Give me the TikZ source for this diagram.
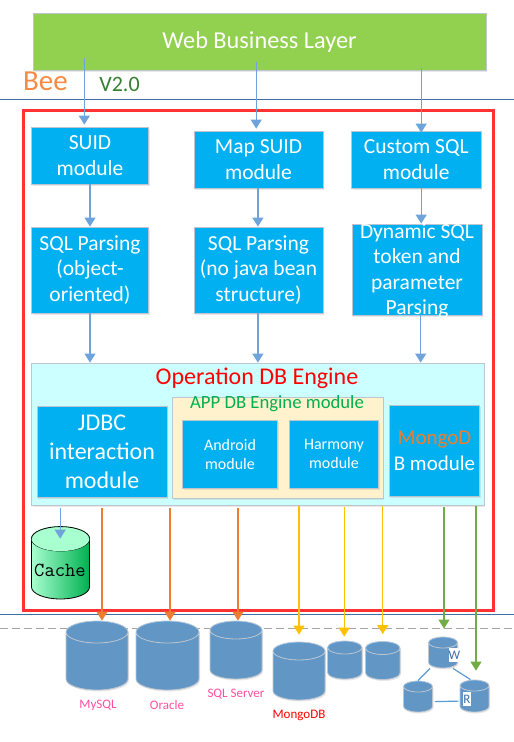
\documentclass[tikz,border=0pt]{standalone}
\usepackage{fontspec}
\setmainfont{Carlito}
\usetikzlibrary{arrows.meta,shapes.geometric,shadows}
\definecolor{webgreen}{HTML}{92D050}
\definecolor{modblue}{HTML}{00B0F0}
\definecolor{edgegray}{HTML}{BDC6D0}
\definecolor{engcyan}{HTML}{CCFFFF}
\definecolor{appcream}{HTML}{FFF2CC}
\definecolor{dbblue}{HTML}{5B9BD5}
\definecolor{rulered}{HTML}{FF3333}
\definecolor{seqblue}{HTML}{3F6FA8}
\definecolor{flowblue}{HTML}{6FA3DC}
\definecolor{flowor}{HTML}{ED7D31}
\definecolor{flowye}{HTML}{FFC000}
\definecolor{flowgr}{HTML}{70AD47}
\definecolor{beeor}{HTML}{F58A42}
\definecolor{vergreen}{HTML}{33802E}
\definecolor{labpink}{HTML}{FF4FA0}
\definecolor{cachelight}{HTML}{A8FFD0}
\definecolor{cachemid}{HTML}{8CF0B8}
\definecolor{cachedark}{HTML}{00B050}
\tikzset{
  softshadow/.style={drop shadow={opacity=.18,shadow xshift=1pt,shadow yshift=-1.5pt}},
  box/.style={draw=edgegray,line width=.8pt,inner sep=0pt,align=center,softshadow},
  module/.style={box,fill=modblue,text=white,font=\fontsize{21.5}{25.5}\selectfont},
  smallmod/.style={module,font=\fontsize{16}{19}\selectfont},
  db/.style={cylinder,anchor=shape center,shape border rotate=90,aspect=1,draw=edgegray,line width=.8pt,inner sep=#1,
    cylinder uses custom fill,cylinder body fill=dbblue,cylinder end fill=dbblue,softshadow},
  dblabel/.style={text=labpink,font=\fontsize{13}{15}\selectfont},
  flow/.style={line width=1.2pt,-{Triangle[width=11pt,length=9pt]}},
  blueflow/.style={flow,color=flowblue},
  orflow/.style={flow,color=flowor},
  yeflow/.style={flow,color=flowye},
  grflow/.style={flow,color=flowgr},
}
\begin{document}
\begin{tikzpicture}[x=1pt,y=-1pt]
  \useasboundingbox (0,0) rectangle (514,742);
  % rules
  \draw[seqblue,line width=.8pt] (0,99) -- (514,99);
  \draw[seqblue,line width=.8pt] (0,614.5) -- (514,614.5);
  \draw[gray!70,line width=.8pt,dash pattern=on 8pt off 4pt] (0,628.5) -- (514,628.5);
  \node[box,fill=webgreen,text=white,font=\fontsize{24.3}{28}\selectfont,minimum width=453pt,minimum height=57pt] (web) at (259.5,42) {Web Business Layer};
  \node[text=beeor,font=\fontsize{29}{32}\selectfont] (bee) at (45.5,81) {Bee};
  \node[text=vergreen,font=\fontsize{22}{26}\selectfont] (ver) at (119.5,84) {V2.0};
  \node[draw=rulered,line width=3pt,minimum width=470pt,minimum height=500pt] (core) at (258,360) {};
  % top row
  \node[module,minimum width=117pt,minimum height=57pt] (suid) at (90,155.5) {SUID\\module};
  \node[module,minimum width=129pt,minimum height=57pt] (map) at (258.5,159.5) {Map SUID\\module};
  \node[module,minimum width=129.5pt,minimum height=57pt] (custom) at (416.25,159.5) {Custom SQL\\module};
  % parsing row
  \node[module,minimum width=117pt,minimum height=86pt] (parse) at (90,270) {SQL Parsing\\(object-\\oriented)};
  \node[module,minimum width=129pt,minimum height=86pt] (parsemap) at (258.5,270) {SQL Parsing\\(no java bean\\structure)};
  \node[module,minimum width=130pt,minimum height=91pt] (parsedyn) at (417,269.5) {};
  \node[text=white,align=center,inner sep=0pt,font=\fontsize{21.5}{25.6}\selectfont] (parsedyntxt) at (417,271) {Dynamic SQL\\token and\\parameter\\Parsing};
  % engine
  \node[box,fill=engcyan,minimum width=452.5pt,minimum height=142pt] (engine) at (257.75,434) {};
  \node[text=red,font=\fontsize{24}{28}\selectfont] (enginetxt) at (257,378) {Operation DB Engine};
  \node[module,font=\fontsize{24}{29}\selectfont,minimum width=130pt,minimum height=91pt] (jdbc) at (102,451.5) {JDBC\\interaction\\module};
  \node[box,fill=appcream,minimum width=210.5pt,minimum height=101pt] (app) at (277.75,447.5) {};
  \node[text=cachedark,font=\fontsize{18.7}{22}\selectfont] (apptxt) at (277,404) {APP DB Engine module};
  \node[smallmod,minimum width=95pt,minimum height=67.5pt] (android) at (230,454.25) {Android\\module};
  \node[smallmod,minimum width=89pt,minimum height=67.5pt] (harmony) at (334,454.25) {Harmony\\module};
  \node[module,font=\fontsize{21}{26}\selectfont,minimum width=90pt,minimum height=91pt] (mongomod) at (434.5,450.5) {\textcolor{flowor}{MongoD}\\B module};
  % cache
  \node[cylinder,anchor=shape center,shape border rotate=90,aspect=1,draw=black,line width=.8pt,inner sep=12pt,left color=cachelight,middle color=cachemid,right color=cachedark,minimum width=58pt,minimum height=72pt] (cache) at (60.5,563) {};
  \fill[cachelight] ([yshift=-12pt]cache.north) ellipse (29 and 12.6);
  \draw[black,line width=.8pt] ([xshift=-29pt,yshift=-12pt]cache.north) arc (180:360:29 and 12);
  \node[font=\ttfamily\fontsize{20}{24}\selectfont] (cachetxt) at (60,570) {Cache};
  % databases
  \node[db=11pt,minimum width=62pt,minimum height=69pt] (mysql) at (97,655.5) {};
  \node[db=11pt,minimum width=63pt,minimum height=69pt] (oracle) at (167.5,655.5) {};
  \node[db=9pt,minimum width=52pt,minimum height=58pt] (sqlserver) at (236,650) {};
  \node[db=9pt,minimum width=52pt,minimum height=58pt] (mongodb) at (299,671) {};
  \node[db=6.5pt,minimum width=34.5pt,minimum height=38pt] (shardb) at (344.75,660) {};
  \node[db=6.5pt,minimum width=34.5pt,minimum height=38pt] (shardc) at (382.75,660.5) {};
  \node[db=5.5pt,minimum width=29pt,minimum height=31pt] (wdb) at (443,652.5) {};
  \node[db=5.5pt,minimum width=29pt,minimum height=31pt] (ldb) at (418,696.5) {};
  \node[db=5.5pt,minimum width=29pt,minimum height=32pt] (rdb) at (474.5,696) {};
  \draw[dbblue,line width=1.2pt] ([xshift=-13pt]wdb.south) -- (ldb.north);
  \draw[dbblue,line width=1.2pt] ([xshift=10pt]wdb.south) -- ([xshift=-4pt]rdb.north);
  \draw[dbblue,line width=1.2pt] ([xshift=2pt]ldb.east) -- ([xshift=-1pt]rdb.west);
  \node[fill=white,inner sep=0pt,minimum width=11pt,minimum height=14pt,text=seqblue,font=\fontsize{13}{15}\selectfont] (wtag) at (454.5,655) {W};
  \node[fill=white,inner sep=0pt,minimum width=6pt,minimum height=14pt,text=seqblue,font=\fontsize{13}{15}\selectfont] (rtag) at (467,699) {R};
  \node[dblabel] (mysqltxt) at (98,705) {MySQL};
  \node[dblabel] (oracletxt) at (167,705) {Oracle};
  \node[dblabel] (sqlservertxt) at (236,694) {SQL Server};
  \node[dblabel,text=red] (mongotxt) at (299,715) {MongoDB};
  % starts of the arrows
  \coordinate (wa) at (84.3,58);
  \coordinate (wb) at (256.2,62);
  \coordinate (wc) at (421.2,68);
  \coordinate (ca) at (60.2,508);
  \coordinate (oa) at (102,508);
  \coordinate (ob) at (170,508);
  \coordinate (oc) at (238,508);
  \coordinate (ya) at (299,506);
  \coordinate (yb) at (344.2,507);
  \coordinate (yc) at (382.7,506);
  \coordinate (ga) at (444,507);
  \coordinate (gb) at (476,506);
  \draw[blueflow,shorten >=2pt] (wa) -- (wa |- suid.north);
  \draw[blueflow,shorten >=2pt] (wb) -- (wb |- map.north);
  \draw[blueflow,shorten >=-2pt] (wc) -- (wc |- custom.north);
  \draw[blueflow] (suid) -- (suid |- parse.north);
  \draw[blueflow] ([xshift=-.6pt]map.south) -- ([xshift=-.6pt]parsemap.north);
  \draw[blueflow] (custom.south -| wc) -- (wc |- parsedyn.north);
  \draw[blueflow] (parse.south) -- (parse.south |- engine.north);
  \draw[blueflow] ([xshift=-.6pt]parsemap.south) -- ([xshift=-.6pt]parsemap.south |- engine.north);
  \draw[blueflow] ([xshift=3.7pt]parsedyn.south) -- ([xshift=3.7pt]parsedyn.south |- engine.north);
  \draw[blueflow,shorten >=-12pt] (ca) -- (ca |- cache.north);
  \draw[orflow] (oa) -- (oa |- mysql.north);
  \draw[orflow] (ob) -- (ob |- oracle.north);
  \draw[orflow] (oc) -- (oc |- sqlserver.north);
  \draw[yeflow,shorten >=7pt] (ya) -- (ya |- mongodb.north);
  \draw[yeflow,shorten >=4pt] (yb) -- (yb |- shardb.north);
  \draw[yeflow,shorten >=7pt] (yc) -- (yc |- shardc.north);
  \draw[grflow,shorten >=8pt] (ga) -- (ga |- wdb.north);
  \draw[grflow,shorten >=9pt] (gb) -- (gb |- rdb.north);
\end{tikzpicture}
\end{document}
